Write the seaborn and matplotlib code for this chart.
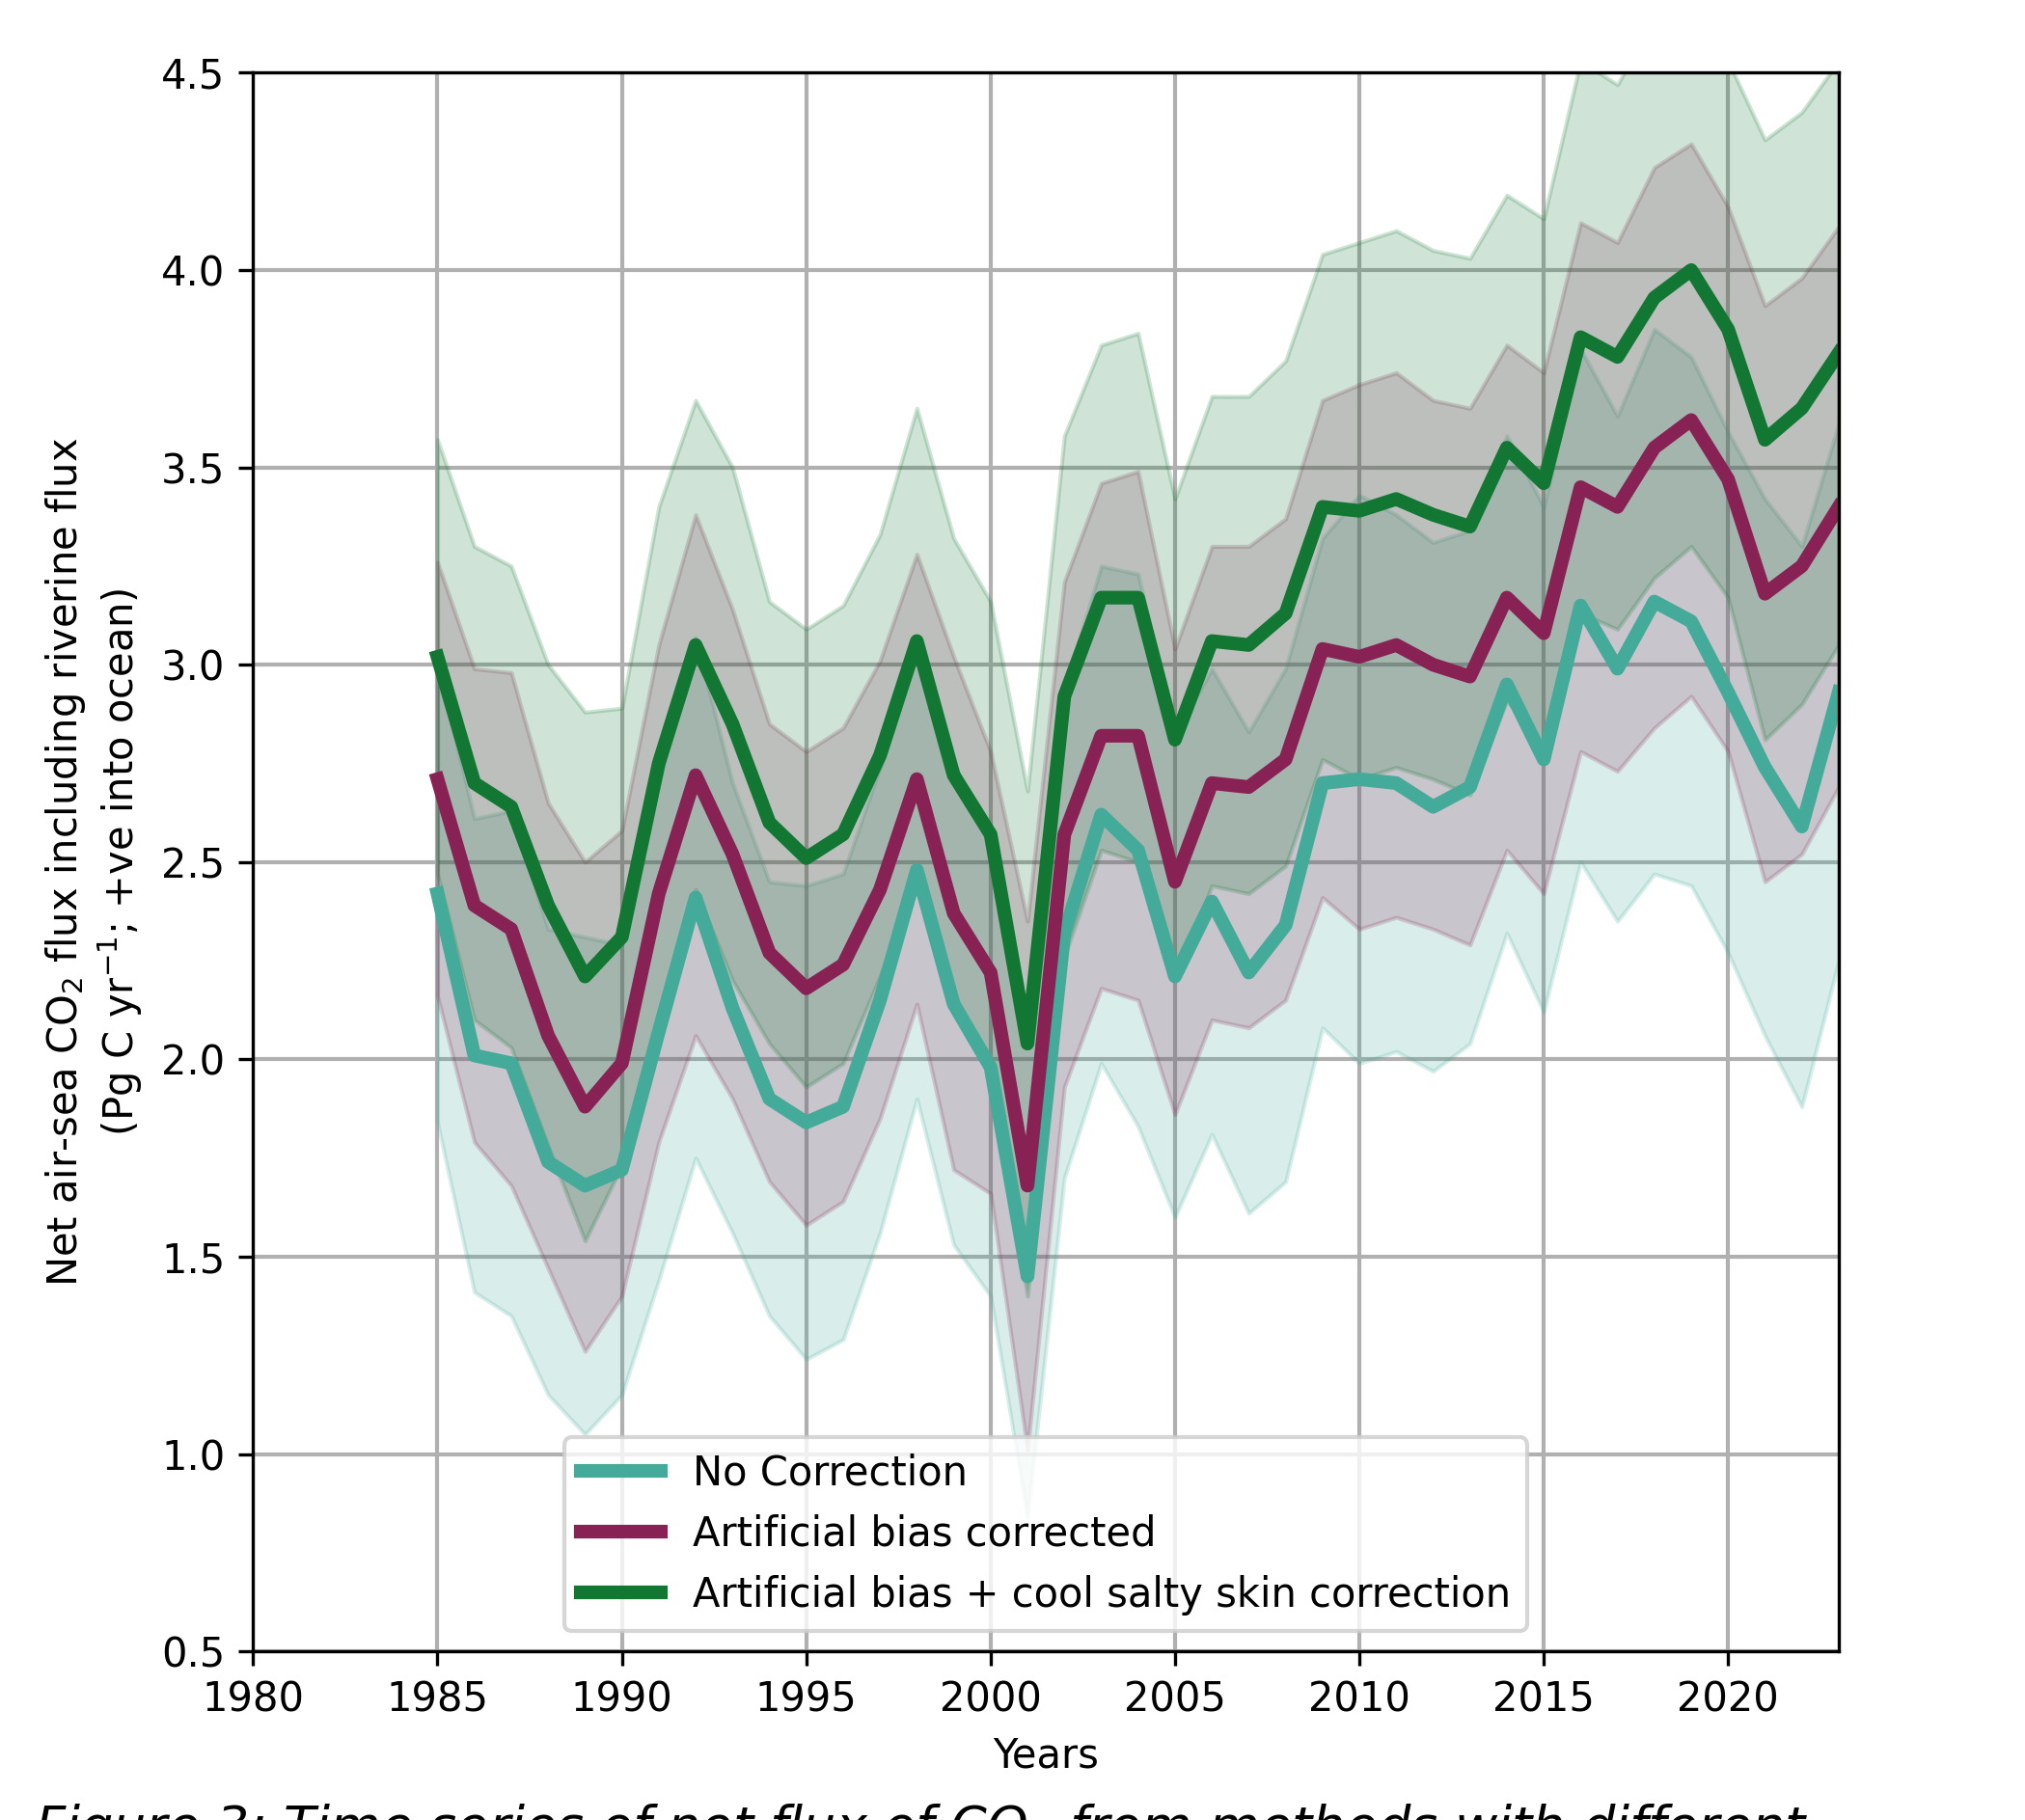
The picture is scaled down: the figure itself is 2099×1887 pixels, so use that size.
import numpy as np
import pandas as pd
import matplotlib
matplotlib.use("Agg")
import matplotlib.pyplot as plt
import seaborn as sns

# Годы и значения потока (Pg C / год)
years = list(range(1985, 2024))

no_corr = [2.42, 2.01, 1.99, 1.74, 1.68, 1.72, 2.07, 2.41, 2.13, 1.90,
           1.84, 1.88, 2.15, 2.48, 2.14, 1.98, 1.45, 2.32, 2.62, 2.53,
           2.21, 2.40, 2.22, 2.34, 2.70, 2.71, 2.70, 2.64, 2.69, 2.95,
           2.76, 3.15, 2.99, 3.16, 3.11, 2.93, 2.74, 2.59, 2.93]
no_corr_unc = [0.58, 0.60, 0.64, 0.59, 0.63, 0.57, 0.63, 0.66, 0.57, 0.55,
               0.60, 0.59, 0.59, 0.58, 0.61, 0.58, 0.61, 0.62, 0.63, 0.70,
               0.61, 0.59, 0.61, 0.65, 0.62, 0.72, 0.68, 0.67, 0.65, 0.63,
               0.64, 0.65, 0.64, 0.69, 0.67, 0.66, 0.68, 0.71, 0.68]

bias_corr = [2.71, 2.39, 2.33, 2.06, 1.88, 1.99, 2.42, 2.72, 2.52, 2.27,
             2.18, 2.24, 2.43, 2.71, 2.37, 2.22, 1.68, 2.57, 2.82, 2.82,
             2.45, 2.70, 2.69, 2.76, 3.04, 3.02, 3.05, 3.00, 2.97, 3.17,
             3.08, 3.45, 3.40, 3.55, 3.62, 3.47, 3.18, 3.25, 3.40]
bias_corr_unc = [0.55, 0.60, 0.65, 0.59, 0.62, 0.59, 0.63, 0.66, 0.62, 0.58,
                 0.60, 0.60, 0.58, 0.57, 0.65, 0.56, 0.67, 0.64, 0.64, 0.67,
                 0.59, 0.60, 0.61, 0.61, 0.63, 0.69, 0.69, 0.67, 0.68, 0.64,
                 0.66, 0.67, 0.67, 0.71, 0.70, 0.69, 0.73, 0.73, 0.71]

skin_corr = [3.02, 2.70, 2.64, 2.39, 2.21, 2.31, 2.75, 3.05, 2.85, 2.60,
             2.51, 2.57, 2.77, 3.06, 2.72, 2.57, 2.04, 2.92, 3.17, 3.17,
             2.81, 3.06, 3.05, 3.13, 3.40, 3.39, 3.42, 3.38, 3.35, 3.55,
             3.46, 3.83, 3.78, 3.93, 4.00, 3.85, 3.57, 3.65, 3.79]
skin_corr_unc = [0.55, 0.60, 0.61, 0.61, 0.67, 0.58, 0.65, 0.62, 0.65, 0.56,
                 0.58, 0.58, 0.56, 0.59, 0.60, 0.59, 0.64, 0.66, 0.64, 0.67,
                 0.61, 0.62, 0.63, 0.64, 0.64, 0.68, 0.68, 0.67, 0.68, 0.64,
                 0.67, 0.70, 0.69, 0.71, 0.70, 0.68, 0.76, 0.75, 0.74]

labels = ["No Correction", "Artificial bias corrected",
          "Artificial bias + cool salty skin correction"]
colors = ["#44AA99", "#882255", "#117733"]

series = [(no_corr, no_corr_unc), (bias_corr, bias_corr_unc),
          (skin_corr, skin_corr_unc)]

# Длинная таблица для seaborn
df = pd.concat([pd.DataFrame({"Years": years, "flux": v, "unc": u, "run": lab})
                for (v, u), lab in zip(series, labels)], ignore_index=True)

fig = plt.figure(figsize=(2099 / 300, 1887 / 300), dpi=300)
ax = fig.add_axes([0.125, 0.0927, 0.783, 0.8673])

# Полосы неопределённости
for lab, c in zip(labels, colors):
    d = df[df.run == lab]
    ax.fill_between(d.Years, d.flux - d.unc, d.flux + d.unc, color=c, alpha=0.2)

sns.lineplot(data=df, x="Years", y="flux", hue="run", palette=colors,
             hue_order=labels, linewidth=3.4, ax=ax)

ax.set_xlim(1980, 2023)
ax.set_ylim(0.5, 4.5)
ax.set_xticks(range(1980, 2021, 5))
ax.set_yticks(np.arange(0.5, 4.51, 0.5))
ax.grid(True, color="#b0b0b0", linewidth=1)
ax.set_axisbelow(True)
ax.tick_params(labelsize=10)
ax.set_xlabel("Years", fontsize=10)
ax.set_ylabel("Net air-sea CO$_2$ flux including riverine flux\n"
              "(Pg C yr$^{-1}$; +ve into ocean)", fontsize=10)

leg = ax.legend(loc="lower center", fontsize=10)
leg.set_title(None)
for h in leg.get_lines():
    h.set_linewidth(3.4)

# Подпись к рисунку, обрезанная нижним краем (как в оригинале)
fig.text(0.017, 0.0100, "Figure 3: Time series of net flux of CO$_2$ "
         "from methods with different", fontsize=13, va="top",
         style="italic")

fig.savefig("out.png", dpi=300)
